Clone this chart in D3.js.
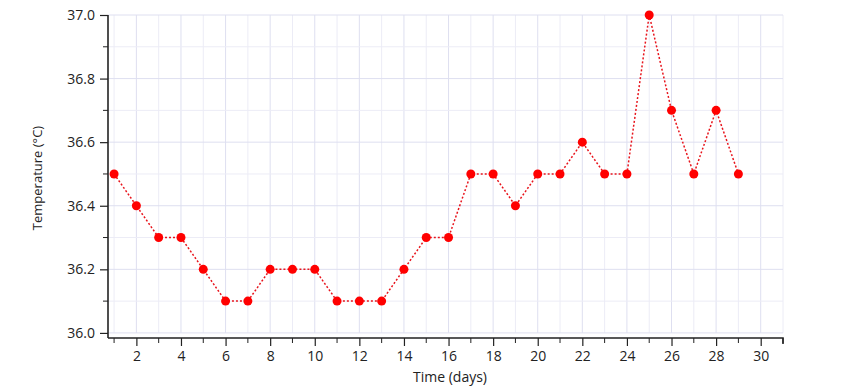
<!DOCTYPE html>
<html>
<head>
<meta charset="utf-8">
<script src="https://cdn.jsdelivr.net/npm/d3@7"></script>
<style>
  body { margin: 0; background: #fff; }
  text { font-family: "Open Sans", sans-serif; fill: #222; }
</style>
</head>
<body>
<svg width="856" height="387"></svg>
<script>
(function() {
    const days = d3.range(1, 30)
    const temps = [36.5, 36.4, 36.3, 36.3, 36.2, 36.1, 36.1, 36.2, 36.2, 36.2,
                   36.1, 36.1, 36.1, 36.2, 36.3, 36.3, 36.5, 36.5, 36.4, 36.5,
                   36.5, 36.6, 36.5, 36.5, 37.0, 36.7, 36.5, 36.7, 36.5]
    const xMajor = [2, 4, 6, 8, 10, 12, 14, 16, 18, 20, 22, 24, 26, 28, 30]
    const xMinor = [1, 3, 5, 7, 9, 11, 13, 15, 17, 19, 21, 23, 25, 27, 29, 31]
    const yMajor = [36.0, 36.2, 36.4, 36.6, 36.8, 37.0]
    const yMinor = [36.1, 36.3, 36.5, 36.7, 36.9]

    const svg = d3.select('svg')
    const left = 108, right = 783, top = 15, bottom = 338

    const x = d3.scaleLinear().domain([0.727, 31]).range([left, right])
    const y = d3.scaleLinear().domain([35.984, 37.0]).range([bottom, top])

    const grid = svg.append('g')
    grid.selectAll('line.vmin')
        .data(xMinor)
        .enter().append('line')
        .attr('x1', d => x(d)).attr('x2', d => x(d))
        .attr('y1', top).attr('y2', y(36.0))
        .attr('stroke', '#ececf6')
    grid.selectAll('line.vmaj')
        .data(xMajor)
        .enter().append('line')
        .attr('x1', d => x(d)).attr('x2', d => x(d))
        .attr('y1', top).attr('y2', y(36.0))
        .attr('stroke', '#dedff0')
    grid.selectAll('line.hmin')
        .data(yMinor)
        .enter().append('line')
        .attr('x1', left).attr('x2', right)
        .attr('y1', d => y(d)).attr('y2', d => y(d))
        .attr('stroke', '#ececf6')
    grid.selectAll('line.hmaj')
        .data(yMajor)
        .enter().append('line')
        .attr('x1', left).attr('x2', right)
        .attr('y1', d => y(d)).attr('y2', d => y(d))
        .attr('stroke', '#dedff0')

    // axes
    const xAxis = svg.append('g').attr('transform', `translate(0,${bottom})`)
    xAxis.call(d3.axisBottom(x).tickValues(xMajor).tickSize(8).tickPadding(5).tickFormat(d3.format('d')))
    xAxis.append('g').selectAll('line')
        .data(xMinor)
        .enter().append('line')
        .attr('x1', d => x(d)).attr('x2', d => x(d))
        .attr('y1', 0).attr('y2', 5)
        .attr('stroke', '#222')
    const yAxis = svg.append('g').attr('transform', `translate(${left},0)`)
    yAxis.call(d3.axisLeft(y).tickValues(yMajor).tickSize(8).tickPadding(5).tickFormat(d3.format('.1f')))
    yAxis.append('g').selectAll('line')
        .data(yMinor)
        .enter().append('line')
        .attr('x1', 0).attr('x2', -5)
        .attr('y1', d => y(d)).attr('y2', d => y(d))
        .attr('stroke', '#222')

    svg.selectAll('.domain').attr('stroke', '#222').attr('stroke-width', 1.6)
    svg.selectAll('.tick line').attr('stroke', '#222').attr('stroke-width', 1.2)
    svg.selectAll('.tick text').style('font-size', '14px').attr('fill', '#222')
    xAxis.select('.domain').attr('d', `M${left},0H${right}V6`)
    yAxis.select('.domain').attr('d', `M0,${top}V${bottom}`)

    // series
    const line = d3.line()
        .x((d, i) => x(days[i]))
        .y(d => y(d))
    svg.append('path')
        .datum(temps)
        .attr('d', line)
        .attr('fill', 'none')
        .attr('stroke', '#e8141c')
        .attr('stroke-width', 1.5)
        .attr('stroke-dasharray', '2,2')

    svg.append('g').selectAll('circle')
        .data(temps)
        .enter().append('circle')
        .attr('cx', (d, i) => x(days[i]))
        .attr('cy', d => y(d))
        .attr('r', 4.5)
        .attr('fill', '#ff0000')

    // titles
    svg.append('text')
        .attr('transform', `translate(42,178) rotate(-90)`)
        .attr('text-anchor', 'middle')
        .style('font-size', '13px')
        .text('Temperature (°C)')
    svg.append('text')
        .attr('x', 450).attr('y', 382)
        .attr('text-anchor', 'middle')
        .style('font-size', '14px')
        .text('Time (days)')
})()
</script>
</body>
</html>
